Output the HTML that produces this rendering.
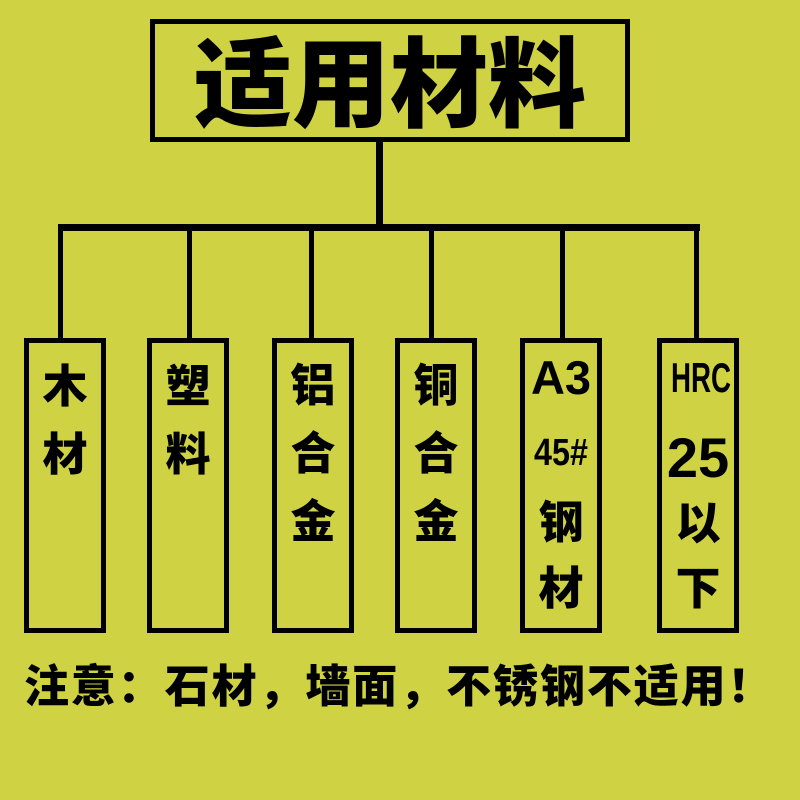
<!DOCTYPE html>
<html><head><meta charset="utf-8"><style>
html,body{margin:0;padding:0}
body{width:800px;height:800px;background:#cfd343;position:relative;overflow:hidden;font-family:"Liberation Sans","Noto Sans CJK SC",sans-serif;font-weight:900;color:#000}
.a{position:absolute;background:#000}
.b{position:absolute;border:5px solid #000;box-sizing:border-box}
.t{position:absolute;text-align:center;line-height:1;white-space:nowrap}
</style></head><body>
<div class="b" style="left:150px;top:19px;width:480px;height:123px"></div>
<div class="t" style="left:150px;width:480px;top:28px;font-size:98px;font-family:'Noto Sans CJK SC',sans-serif;font-weight:900">适用材料</div>
<div class="a" style="left:376px;top:141px;width:7px;height:88px"></div>
<div class="a" style="left:58px;top:224px;width:642px;height:7px"></div>
<div class="a" style="left:58px;top:228px;width:5px;height:112px"></div>
<div class="a" style="left:187px;top:228px;width:5px;height:112px"></div>
<div class="a" style="left:309px;top:228px;width:5px;height:112px"></div>
<div class="a" style="left:429px;top:228px;width:5px;height:112px"></div>
<div class="a" style="left:560px;top:228px;width:5px;height:112px"></div>
<div class="a" style="left:694px;top:228px;width:5px;height:112px"></div>

<div class="b" style="left:24px;top:338px;width:82px;height:295px"></div>
<div class="b" style="left:147px;top:338px;width:82px;height:295px"></div>
<div class="b" style="left:272px;top:338px;width:82px;height:295px"></div>
<div class="b" style="left:395px;top:338px;width:82px;height:295px"></div>
<div class="b" style="left:520px;top:338px;width:82px;height:295px"></div>
<div class="b" style="left:657px;top:338px;width:82px;height:295px"></div>

<div class="t" style="left:24px;width:82px;top:353px;font-size:45px;line-height:68px">木<br>材</div>
<div class="t" style="left:147px;width:82px;top:353px;font-size:45px;line-height:68px">塑<br>料</div>
<div class="t" style="left:272px;width:82px;top:352px;font-size:45px;line-height:68px">铝<br>合<br>金</div>
<div class="t" style="left:395px;width:82px;top:352px;font-size:45px;line-height:68px">铜<br>合<br>金</div>
<div class="t" style="left:520px;width:82px;top:354px;font-size:47px;font-weight:bold">A3</div>
<div class="t" style="left:520px;width:82px;top:434px;font-size:38px;font-weight:bold;transform:scaleX(0.85)">45#</div>
<div class="t" style="left:520px;width:82px;top:490px;font-size:45px;line-height:66px">钢<br>材</div>
<div class="t" style="left:657px;width:82px;top:357px;font-size:42px;font-weight:bold;transform:scaleX(0.66)">HRC</div>
<div class="t" style="left:657px;width:82px;top:430px;font-size:56px;font-weight:bold">25</div>
<div class="t" style="left:657px;width:82px;top:491px;font-size:45px;line-height:65px">以<br>下</div>

<div class="t" style="left:24px;top:664px;font-size:45px;letter-spacing:1.9px">注意：石材，墙面，不锈钢不适用！</div>
</body></html>
